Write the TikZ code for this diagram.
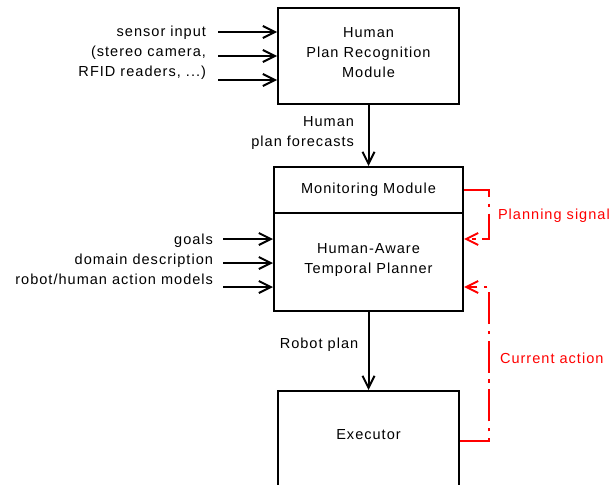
\documentclass[tikz,border=0pt]{standalone}
\usepackage{fontspec}
\setmainfont{Liberation Sans}[LetterSpace=7.0]
\usepackage{tikz}
\usetikzlibrary{positioning, arrows.meta}
\definecolor{sigred}{rgb}{1,0,0}

\begin{document}
\begin{tikzpicture}[
    x=0.75pt, y=-0.75pt, line width=1.5pt,
    >={Straight Barb[length=9pt, width=9pt, line width=1.5pt]},
    font=\fontsize{10.9pt}{15pt}\selectfont,
    module/.style={rectangle, draw, align=center, inner sep=2pt},
    signal/.style={sigred, dash pattern=on 24pt off 5pt on 2.5pt off 5pt},
    caption/.style={align=right, inner sep=0pt}
]
    \clip (0,0) rectangle (610,485);

    % boxes
    \node[module, minimum width=135.75pt, minimum height=72pt, text depth=5pt] (hpr) at (368.5,56)
        {Human\\Plan Recognition\\Module};
    \node[module, minimum width=141.75pt, minimum height=34.5pt] (monitor) at (368.5,190)
        {Monitoring Module};
    \node[module, minimum width=141.75pt, minimum height=73.5pt, text depth=6pt] (planner) at (368.5,262)
        {Human-Aware\\Temporal Planner};
    \node[module, minimum width=135.75pt, minimum height=75pt, text depth=10pt] (exec) at (368.5,441)
        {Executor};

    % inputs
    \node[caption, anchor=east] (sensor) at (207,52.5)
        {sensor input\\(stereo camera,\\RFID readers, ...)};
    \node[caption, anchor=east] (models) at (214,259)
        {goals\\domain description\\robot/human action models};
    \foreach \y/\n in {32/1, 56/2, 80/3}
        \coordinate (s\n) at (218,\y);
    \foreach \y/\n in {239/1, 263/2, 287/3}
        \coordinate (g\n) at (223,\y);
    \foreach \n in {1,2,3} {
        \draw[->] (s\n) -- (s\n -| hpr.west);
        \draw[->] (g\n) -- (g\n -| planner.west);
    }

    % plans
    \draw[->] (hpr.south) -- (monitor.north);
    \node[caption, anchor=east] (forecast) at (355,133) {Human\\plan forecasts};
    \draw[->] (planner.south) -- (exec.north);
    \node[caption] (robotplan) at (319,345) {Robot plan};

    % feedback
    \coordinate (ps) at (489,239);
    \coordinate (ca) at (489,287);
    \draw[signal, ->] (monitor.east) -- (monitor.east -| ps) -- (ps) -- (ps -| planner.east);
    \draw[signal, ->] (exec.east) -- (exec.east -| ca) -- (ca) -- (ca -| planner.east);
    \node[sigred, anchor=west, inner sep=0pt] (pslabel) at (497,216) {Planning signal};
    \node[sigred, anchor=west, inner sep=0pt] (calabel) at (499,358) {Current action};
\end{tikzpicture}
\end{document}
